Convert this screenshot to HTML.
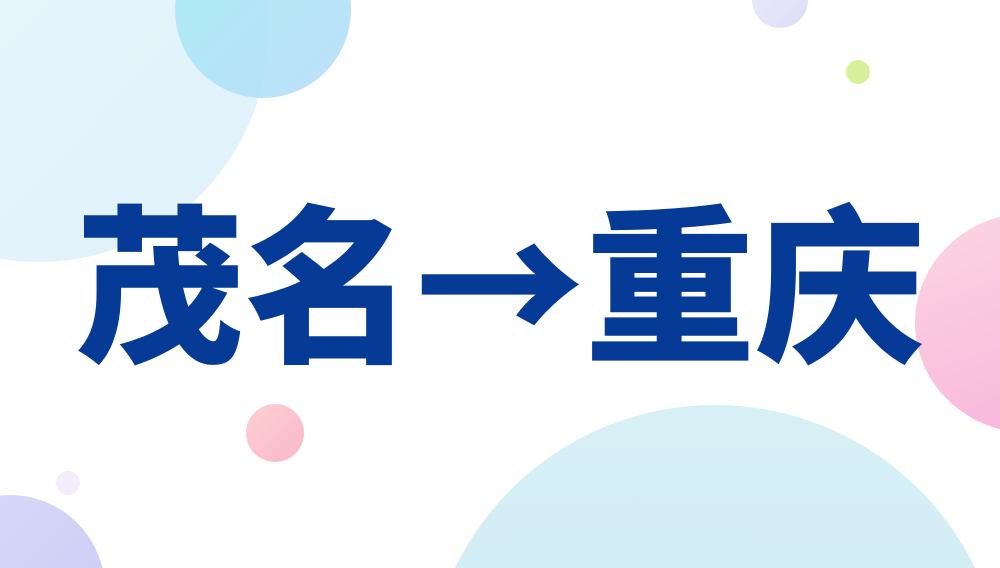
<!DOCTYPE html>
<html><head><meta charset="utf-8"><style>
html,body{margin:0;padding:0;width:1000px;height:568px;overflow:hidden;}
#w{position:relative;width:1000px;height:568px;overflow:hidden;background:#fff;}
.c{position:absolute;border-radius:50%;}
.t{position:absolute;left:0;top:170px;width:1000px;text-align:center;font-family:"Noto Sans CJK SC","WenQuanYi Zen Hei",sans-serif;font-weight:900;font-size:170px;line-height:210px;color:#053a97;white-space:nowrap;}
</style></head><body><div id="w">
<div class="c" style="left:-190px;top:-198px;width:458px;height:460px;background:linear-gradient(135deg,#eaf8fc,#e0f1fb);"></div>
<div class="c" style="left:175px;top:-78px;width:176px;height:176px;background:linear-gradient(135deg,#a6ecf5,#b6dcf7);opacity:.9"></div>
<div class="c" style="left:752px;top:-28px;width:56px;height:56px;background:linear-gradient(135deg,#ececfb,#dcdcf7);"></div>
<div class="c" style="left:846px;top:60px;width:24px;height:24px;background:#d8f09c;"></div>
<div class="c" style="left:915px;top:213px;width:230px;height:220px;background:linear-gradient(160deg,#fcd6e2,#f8b2dc);"></div>
<div class="c" style="left:246px;top:404px;width:58px;height:58px;background:linear-gradient(135deg,#fdd0d4,#f9b8c8);"></div>
<div class="c" style="left:56px;top:471px;width:24px;height:24px;background:#f2ecfb;"></div>
<div class="c" style="left:-85px;top:495px;width:190px;height:190px;background:linear-gradient(135deg,#dcdcfa,#c8c8f4);"></div>
<div class="c" style="left:426px;top:405px;width:578px;height:578px;background:linear-gradient(180deg,#d6f0f6,#d0e8f2);"></div>
<div class="t">茂名→重庆</div>
</div></body></html>
